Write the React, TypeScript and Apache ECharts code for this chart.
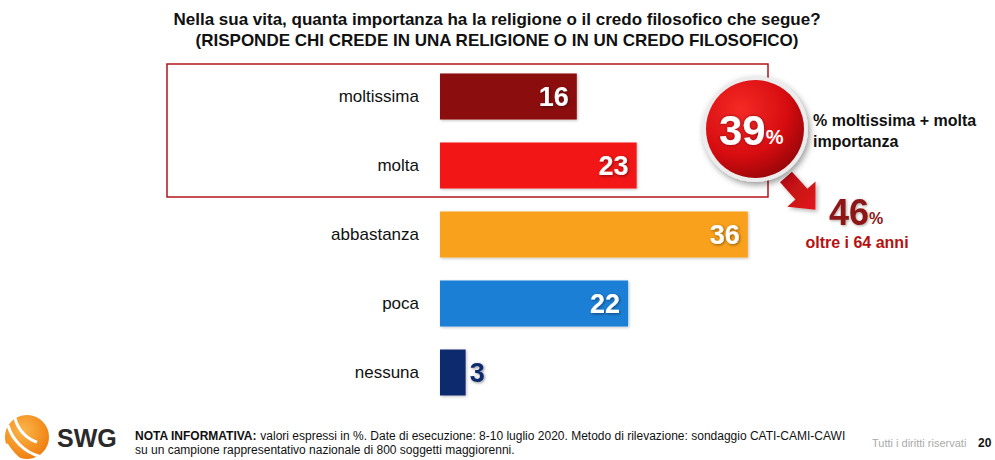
import React, { useEffect, useRef } from "react";
import * as echarts from "echarts";

const categories = ["moltissima", "molta", "abbastanza", "poca", "nessuna"];
const values = [16, 23, 36, 22, 3];
const barColors = ["#8c0a0a", "#f21616", "#f9a11b", "#1a7fd6", "#0e2a6e"];
const titleLines = [
  "Nella sua vita, quanta importanza ha la religione o il credo filosofico che segue?",
  "(RISPONDE CHI CREDE IN UNA RELIGIONE O IN UN CREDO FILOSOFICO)",
];
const totalTopTwo = "39";
const totalLabel = ["% moltissima + molta", "importanza"];
const seniorValue = "46";
const seniorLabel = "oltre i 64 anni";
const noteBold = "NOTA INFORMATIVA:";
const noteLine1 = " valori espressi in %. Date di esecuzione: 8-10 luglio 2020. Metodo di rilevazione: sondaggio CATI-CAMI-CAWI";
const noteLine2 = "su un campione rappresentativo nazionale di 800 soggetti maggiorenni.";
const rights = "Tutti i diritti riservati";
const pageNo = "20";

function arrowPoints(sx: number, sy: number, angDeg: number) {
  const a = (angDeg * Math.PI) / 180;
  const d = [Math.cos(a), Math.sin(a)];
  const n = [-Math.sin(a), Math.cos(a)];
  const p = (t: number, w: number) => [sx + d[0] * t + n[0] * w, sy + d[1] * t + n[1] * w];
  return [p(0, 8), p(23, 8), p(23, 19), p(44, 0), p(23, -19), p(23, -8), p(0, -8)];
}

export default function App() {
  const ref = useRef<HTMLDivElement>(null);
  useEffect(() => {
    if (!ref.current) return;
    const chart = echarts.init(ref.current, null, { renderer: "svg" });
    const font = "'Liberation Sans', Arial, sans-serif";
    const narrow = "'Liberation Sans Narrow', 'Arial Narrow', 'Liberation Sans', Arial, sans-serif";
    chart.setOption({
      animation: false,
      backgroundColor: "#ffffff",
      grid: { left: 440, top: 62, height: 345, width: 342 },
      xAxis: { type: "value", min: 0, max: 40, show: false },
      yAxis: {
        type: "category",
        data: categories,
        inverse: true,
        axisLine: { show: false },
        axisTick: { show: false },
        axisLabel: { color: "#111", fontSize: 17, fontFamily: font, margin: 21 },
      },
      series: [
        {
          type: "bar",
          barWidth: 46,
          data: values.map((v, i) => ({
            value: v,
            itemStyle: { color: barColors[i] },
            label:
              v < 6
                ? { position: "right", color: "#0e2a6e", distance: 4 }
                : { position: "insideRight", color: "#fff" },
          })),
          itemStyle: { shadowBlur: 3, shadowColor: "rgba(0,0,0,0.25)", shadowOffsetX: 1, shadowOffsetY: 1 },
          label: {
            show: true,
            fontSize: 27,
            fontWeight: "bold",
            fontFamily: font,
            textShadowColor: "rgba(0,0,0,0.45)",
            textShadowBlur: 3,
            textShadowOffsetX: 1,
            textShadowOffsetY: 1,
            distance: 8,
          },
        },
      ],
      graphic: [
        {
          type: "text",
          x: 497,
          y: 9,
          style: {
            text: titleLines.join("\n"),
            font: `bold 17px ${narrow}`,
            fill: "#111",
            align: "center",
            lineHeight: 21,
          },
        },
        {
          type: "rect",
          shape: { x: 167, y: 64, width: 601, height: 133 },
          style: { fill: "none", stroke: "#b3141b", lineWidth: 1.5 },
          z: 1,
        },
        {
          type: "polygon",
          shape: { points: arrowPoints(786, 177, 48) },
          style: {
            fill: new echarts.graphic.LinearGradient(0, 0, 1, 1, [
              { offset: 0, color: "#b10d12" },
              { offset: 1, color: "#e3191c" },
            ]),
            shadowBlur: 4,
            shadowColor: "rgba(0,0,0,0.3)",
            shadowOffsetX: 2,
            shadowOffsetY: 2,
          },
          z: 10,
        },
        {
          type: "circle",
          shape: { cx: 755, cy: 129, r: 53 },
          style: { fill: "#ececec", shadowBlur: 6, shadowColor: "rgba(0,0,0,0.4)", shadowOffsetX: 2, shadowOffsetY: 3 },
          z: 11,
        },
        {
          type: "circle",
          shape: { cx: 755, cy: 129, r: 49 },
          style: {
            fill: new echarts.graphic.RadialGradient(0.35, 0.3, 0.8, [
              { offset: 0, color: "#f52a25" },
              { offset: 0.6, color: "#d60c10" },
              { offset: 1, color: "#8e0508" },
            ]),
          },
          z: 12,
        },
        {
          type: "text",
          x: 719,
          y: 130,
          style: {
            text: "{a|" + totalTopTwo + "}{b|%}",
            rich: {
              a: { font: `bold 42px ${font}`, fill: "#fff", textShadowColor: "rgba(0,0,0,0.5)", textShadowBlur: 3 },
              b: { font: `bold 20px ${font}`, fill: "#fff", padding: [14, 0, 0, 0] },
            },
            verticalAlign: "middle",
          },
          z: 13,
        },
        {
          type: "text",
          x: 813,
          y: 110,
          style: { text: totalLabel.join("\n"), font: `bold 16px ${font}`, fill: "#111", lineHeight: 21 },
          z: 13,
        },
        {
          type: "text",
          x: 829,
          y: 212,
          style: {
            text: "{a|" + seniorValue + "}{b|%}",
            rich: {
              a: { font: `bold 36px ${font}`, fill: "#8d1515", textShadowColor: "rgba(0,0,0,0.35)", textShadowBlur: 3, textShadowOffsetX: 1, textShadowOffsetY: 1 },
              b: { font: `bold 16px ${font}`, fill: "#8d1515", padding: [12, 0, 0, 0] },
            },
            verticalAlign: "middle",
          },
          z: 13,
        },
        {
          type: "text",
          x: 857,
          y: 242,
          style: { text: seniorLabel, font: `bold 16px ${font}`, fill: "#b81010", align: "center", verticalAlign: "middle" },
          z: 13,
        },
        // logo
        {
          type: "circle",
          shape: { cx: 27, cy: 437, r: 22 },
          style: {
            fill: new echarts.graphic.RadialGradient(0.4, 0.35, 0.7, [
              { offset: 0, color: "#fbb64a" },
              { offset: 1, color: "#ef7d0c" },
            ]),
          },
        },
        {
          type: "arc",
          shape: { cx: 48, cy: 410, r: 34, startAngle: 1.9, endAngle: 2.9 },
          style: { stroke: "#fff", lineWidth: 3, fill: "none" },
        },
        {
          type: "arc",
          shape: { cx: 52, cy: 412, r: 46, startAngle: 1.85, endAngle: 2.85 },
          style: { stroke: "#fff", lineWidth: 3, fill: "none" },
        },
        {
          type: "arc",
          shape: { cx: 56, cy: 414, r: 58, startAngle: 1.85, endAngle: 2.6 },
          style: { stroke: "#fff", lineWidth: 3, fill: "none" },
        },
        {
          type: "text",
          x: 57,
          y: 438,
          style: { text: "SWG", font: `bold 25px ${font}`, fill: "#2a2a2a", verticalAlign: "middle" },
        },
        {
          type: "text",
          x: 135,
          y: 429,
          style: {
            text: "{b|" + noteBold + "}{n|" + noteLine1 + "}\n{n|" + noteLine2 + "}",
            rich: {
              b: { font: `bold 12px ${font}`, fill: "#111" },
              n: { font: `12px ${font}`, fill: "#111" },
            },
            lineHeight: 14,
          },
        },
        {
          type: "text",
          x: 872,
          y: 443,
          style: { text: rights, font: `11px ${font}`, fill: "#aaa", verticalAlign: "middle" },
        },
        {
          type: "text",
          x: 978,
          y: 443,
          style: { text: pageNo, font: `bold 12px ${font}`, fill: "#111", verticalAlign: "middle" },
        },
      ],
    });
    return () => chart.dispose();
  }, []);
  return <div ref={ref} style={{ width: 995, height: 460, position: "absolute", left: 0, top: 0 }} />;
}
